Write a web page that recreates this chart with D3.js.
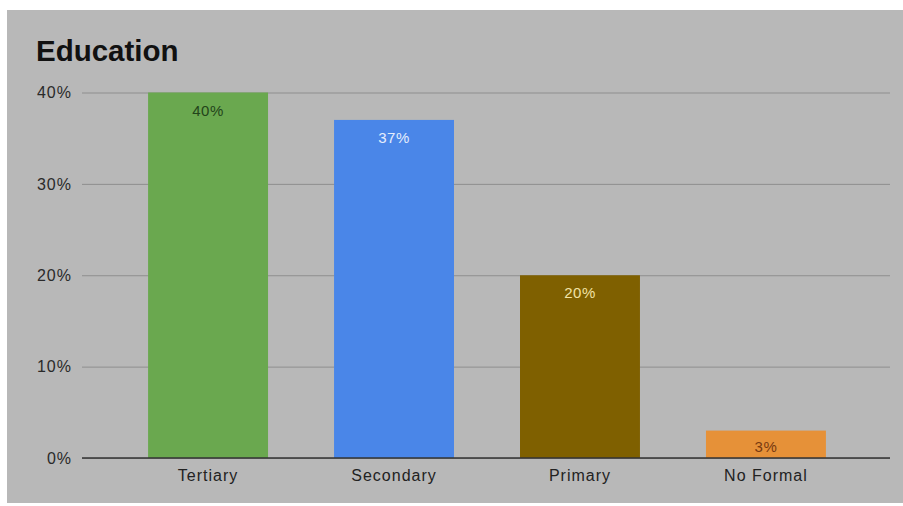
<!DOCTYPE html>
<html>
<head>
<meta charset="utf-8">
<script src="https://cdn.jsdelivr.net/npm/d3@7"></script>
<style>
  html, body { margin: 0; padding: 0; background: #ffffff; }
  svg { display: block; }
  text { font-family: "Liberation Sans", Arial, sans-serif; }
</style>
</head>
<body>
<svg id="chart" width="903" height="506"></svg>
<script>
// Share of respondents by highest level of education
const categories = ["Tertiary", "Secondary", "Primary", "No Formal"];
const values = [40, 37, 20, 3];
const barColors = ["#6aa84f", "#4a86e8", "#7f6000", "#e69138"];
const labelColors = ["#23441a", "#e4edfc", "#f2e3a6", "#783a10"];
const yTicks = [0, 10, 20, 30, 40];

const svg = d3.select("#chart");

// chart panel
svg.append("rect")
  .attr("x", 7).attr("y", 10)
  .attr("width", 896).attr("height", 493)
  .attr("fill", "#b8b8b8");

svg.append("text")
  .attr("x", 36).attr("y", 61)
  .attr("font-size", 29.5).attr("font-weight", "bold")
  .attr("fill", "#111")
  .text("Education");

const plot = { left: 82, right: 890, top: 92.5, bottom: 458 };

const x = d3.scaleBand()
  .domain(categories)
  .range([plot.left, plot.right])
  .paddingInner(0.355)
  .paddingOuter(0.35);

const y = d3.scaleLinear()
  .domain([0, 40])
  .range([plot.bottom, plot.top]);

// gridlines and tick labels
const yAxis = d3.axisLeft(y)
  .tickValues(yTicks)
  .tickSize(-(plot.right - plot.left))
  .tickPadding(10)
  .tickFormat(d => d + "%");

const gy = svg.append("g")
  .attr("transform", `translate(${plot.left},0)`)
  .call(yAxis);
gy.select(".domain").remove();
gy.selectAll(".tick line").attr("stroke", "#8e8e8e").attr("stroke-width", 1);
gy.selectAll(".tick text")
  .attr("font-size", 16).attr("fill", "#2a2a2a")
  .attr("letter-spacing", "1px")
  .attr("font-family", "'Liberation Sans', Arial, sans-serif");

// bars
svg.append("g").selectAll("rect")
  .data(categories)
  .join("rect")
  .attr("x", d => x(d) + 1)
  .attr("y", (d, i) => y(values[i]))
  .attr("width", x.bandwidth())
  .attr("height", (d, i) => y(0) - y(values[i]))
  .attr("fill", (d, i) => barColors[i]);

// value labels inside the bar tops (kept clear of the baseline on short bars)
svg.append("g").selectAll("text")
  .data(categories)
  .join("text")
  .attr("x", d => x(d) + 1 + x.bandwidth() / 2)
  .attr("y", (d, i) => Math.min(y(values[i]) + 23, y(0) - 6))
  .attr("text-anchor", "middle")
  .attr("font-size", 15)
  .attr("letter-spacing", "0.5px")
  .attr("fill", (d, i) => labelColors[i])
  .text((d, i) => values[i] + "%");

// baseline and category labels
const xAxis = d3.axisBottom(x).tickSize(0).tickPadding(12);
const gx = svg.append("g")
  .attr("transform", `translate(1,${plot.bottom})`)
  .call(xAxis);
gx.select(".domain").attr("stroke", "#333").attr("stroke-width", 1.6)
  .attr("d", `M${plot.left - 1},0H${plot.right - 1}`);
gx.selectAll(".tick text")
  .attr("font-size", 16).attr("fill", "#222")
  .attr("letter-spacing", "1px")
  .attr("font-family", "'Liberation Sans', Arial, sans-serif");
</script>
</body>
</html>
